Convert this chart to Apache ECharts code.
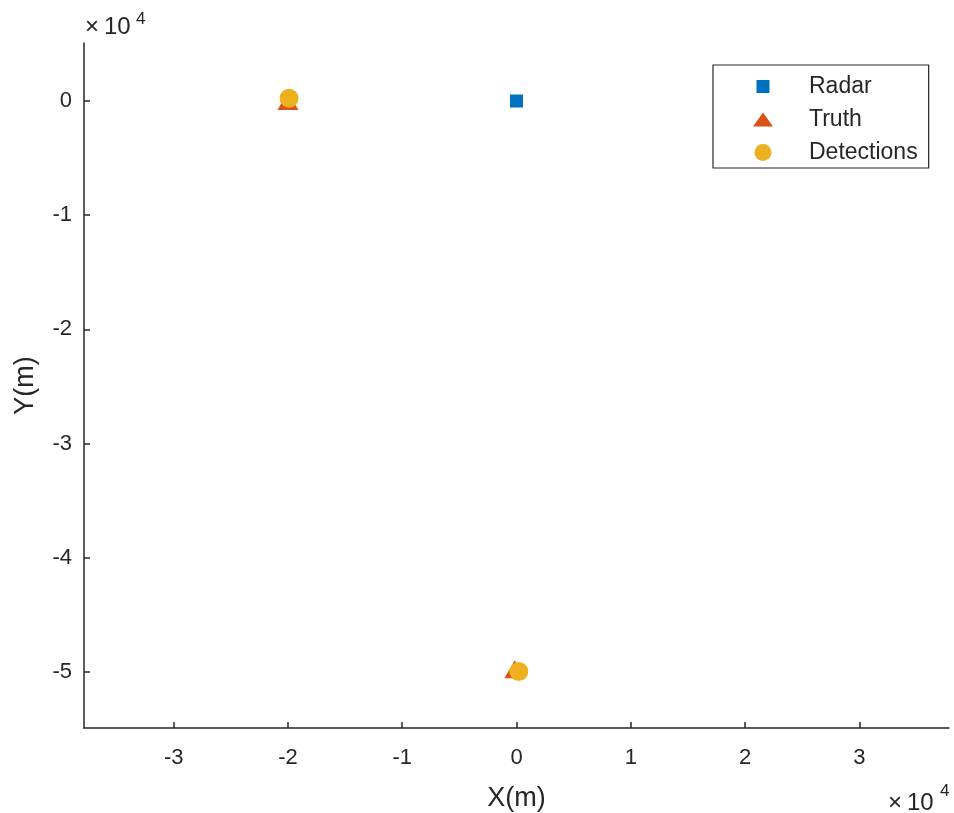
<!DOCTYPE html>
<html>
<head>
<meta charset="utf-8">
<script src="https://cdn.jsdelivr.net/npm/echarts@6/dist/echarts.min.js"></script>
<style>html,body{margin:0;padding:0;background:#fff;}#c{width:954px;height:813px;}</style>
</head>
<body>
<div id="c"></div>
<script>
const radarX = [0];
const radarY = [0];
const truthX = [-20000, -150];
const truthY = [0, -49750];
const detX = [-19900, 200];
const detY = [250, -49950];
const xTicks = [-30000, -20000, -10000, 0, 10000, 20000, 30000];
const yTicks = [-50000, -40000, -30000, -20000, -10000, 0];
const seriesNames = ['Radar', 'Truth', 'Detections'];

const pair = (xs, ys) => xs.map((x, i) => [x, ys[i]]);
const FONT = '"Liberation Sans", Arial, Helvetica, sans-serif';
const AX = '#262626';

const chart = echarts.init(document.getElementById('c'), null, {renderer: 'canvas'});
chart.setOption({
  animation: false,
  backgroundColor: '#fff',
  grid: {left: 84, right: 5, top: 43, bottom: 85, containLabel: false, outerBoundsMode: 'none'},
  xAxis: {
    type: 'value', min: -37850, max: 37850,
    name: 'X(m)', nameLocation: 'middle', nameGap: 57,
    nameTextStyle: {fontFamily: FONT, fontSize: 27, color: AX},
    axisLine: {show: true, onZero: false, lineStyle: {color: AX, width: 1.5}},
    axisTick: {show: true, inside: true, length: 6, customValues: xTicks, lineStyle: {color: AX, width: 1.5}},
    axisLabel: {customValues: xTicks, formatter: v => String(Math.round(v / 10000)), fontFamily: FONT, fontSize: 22, color: AX, margin: 19},
    splitLine: {show: false}
  },
  yAxis: {
    type: 'value', min: -54900, max: 5080,
    name: 'Y(m)', nameLocation: 'middle', nameGap: 45, nameRotate: 90,
    nameTextStyle: {fontFamily: FONT, fontSize: 27, color: AX},
    axisLine: {show: true, onZero: false, lineStyle: {color: AX, width: 1.5}},
    axisTick: {show: true, inside: true, length: 6, customValues: yTicks, lineStyle: {color: AX, width: 1.5}},
    axisLabel: {customValues: yTicks, formatter: v => String(Math.round(v / 10000)), fontFamily: FONT, fontSize: 22, color: AX, margin: 12},
    splitLine: {show: false}
  },
  legend: {
    orient: 'vertical', left: 713, top: 65,
    itemWidth: 82, itemHeight: 17, itemGap: 8,
    symbolKeepAspect: true,
    padding: [9, 11, 3, 40],
    borderColor: AX, borderWidth: 1.2, borderRadius: 0,
    backgroundColor: '#fff',
    textStyle: {fontFamily: FONT, fontSize: 23, color: AX, lineHeight: 25},
    data: [
      {name: seriesNames[0], icon: 'path://M0,0M2,2L15,2L15,15L2,15ZM17,17'},
      {name: seriesNames[1], icon: 'path://M0,0M10,1.5L20,15.5L0,15.5ZM20,17'},
      {name: seriesNames[2], icon: 'circle'}
    ]
  },
  graphic: [
    {type: 'text', x: 85, y: 27, style: {text: '×', fontFamily: FONT, fontSize: 24, fill: AX, verticalAlign: 'middle'}},
    {type: 'text', x: 104, y: 27, style: {text: '10', fontFamily: FONT, fontSize: 24, fill: AX, verticalAlign: 'middle'}},
    {type: 'text', x: 136, y: 19, style: {text: '4', fontFamily: FONT, fontSize: 17, fill: AX, verticalAlign: 'middle'}},
    {type: 'text', x: 888, y: 803, style: {text: '×', fontFamily: FONT, fontSize: 24, fill: AX, verticalAlign: 'middle'}},
    {type: 'text', x: 907, y: 803, style: {text: '10', fontFamily: FONT, fontSize: 24, fill: AX, verticalAlign: 'middle'}},
    {type: 'text', x: 940, y: 791, style: {text: '4', fontFamily: FONT, fontSize: 17, fill: AX, verticalAlign: 'middle'}}
  ],
  series: [
    {name: seriesNames[0], type: 'scatter', symbol: 'rect', symbolSize: 13,
     itemStyle: {color: '#0072BD', opacity: 1}, data: pair(radarX, radarY), z: 2},
    {name: seriesNames[1], type: 'scatter', symbol: 'triangle', symbolSize: [21, 18],
     itemStyle: {color: '#D95319', opacity: 1}, data: pair(truthX, truthY), z: 3},
    {name: seriesNames[2], type: 'scatter', symbol: 'circle', symbolSize: 19,
     itemStyle: {color: '#EDB120', opacity: 1}, data: pair(detX, detY), z: 4}
  ]
});
</script>
</body>
</html>
